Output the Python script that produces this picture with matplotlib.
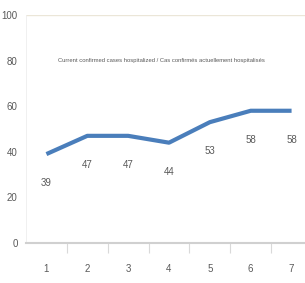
import matplotlib
matplotlib.use('Agg')
import matplotlib.pyplot as plt
import numpy as np

# --- data ---
days     = ['1', '2', '3', '4', '5', '6', '7']
hospital = [39, 47, 47, 44, 53, 58, 58]
yticks   = [0, 20, 40, 60, 80, 100]
title    = 'Current confirmed cases hospitalized / Cas confirmés actuellement hospitalisés'

plt.rcParams['font.family'] = ['Liberation Sans Narrow', 'Liberation Sans', 'DejaVu Sans']

fig = plt.figure(figsize=(3.05, 2.83), dpi=100)
ax = fig.add_axes([26/305, 1 - 243/283, 286/305, 228/283])

x = np.arange(1, len(days) + 1)
ax.plot(x, hospital, color='#4a7ebb', linewidth=3.0, solid_capstyle='butt', zorder=3)

# value labels below the points
for xi, v in zip(x, hospital):
    ax.annotate(str(v), xy=(xi, v), xytext=(0, -21), textcoords='offset points',
                ha='center', va='center', fontsize=7, color='#595959')

ax.set_xlim(0.5, 7.5)
ax.set_ylim(0, 100)
ax.set_yticks(yticks)
ax.set_yticklabels([str(t) for t in yticks], fontsize=7, color='#595959')
ax.set_xticks(x)
ax.set_xticklabels(days, fontsize=7, color='#595959')
ax.set_xticks(np.arange(1.5, 7.5, 1), minor=True)

ax.tick_params(axis='y', length=0, pad=6)
ax.tick_params(axis='x', which='major', length=0, pad=15)
ax.tick_params(axis='x', which='minor', length=7, color='#d9d9d9', width=0.8)

ax.axhline(100, color='#ebe6d8', linewidth=1.0, zorder=1)
for s in ['top', 'right']:
    ax.spines[s].set_visible(False)
ax.spines['left'].set_color('#eeeeee')
ax.spines['left'].set_linewidth(0.6)
ax.spines['bottom'].set_color('#d0d0d0')
ax.spines['bottom'].set_linewidth(1.5)

ax.text((161 - 26) / 286, 0.80, title, transform=ax.transAxes, ha='center', va='center',
        fontsize=4.2, color='#595959')

plt.savefig('out.png', dpi=100)
